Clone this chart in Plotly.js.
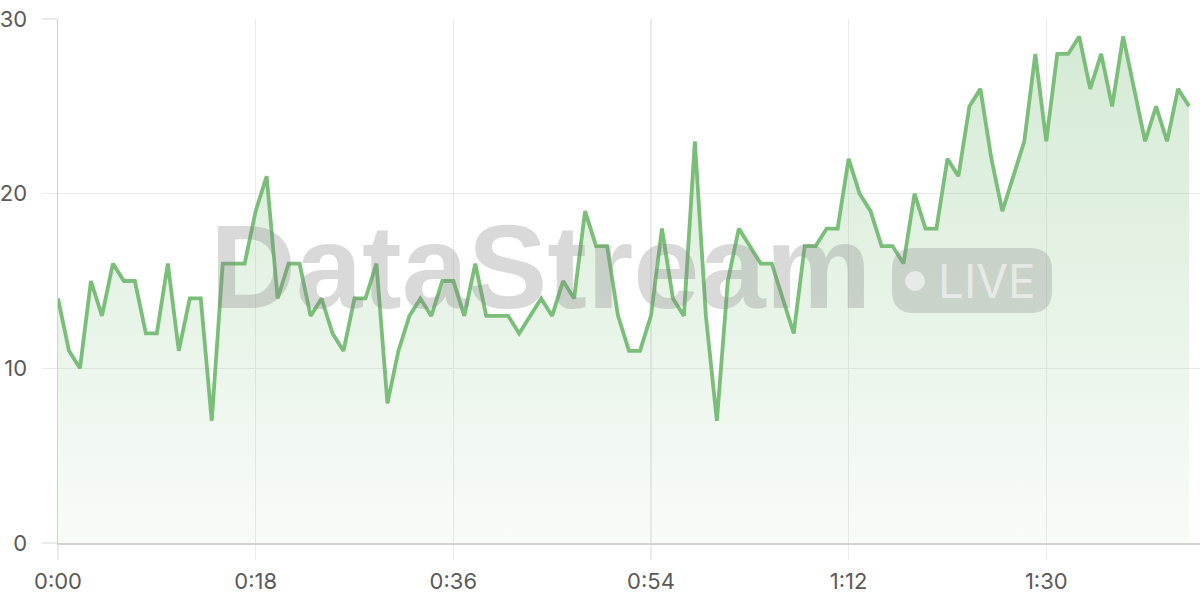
<!DOCTYPE html>
<html>
<head>
<meta charset="utf-8">
<script src="https://cdn.plot.ly/plotly-3.0.1.min.js"></script>
<style>html,body{margin:0;padding:0;background:#fff;}#chart{width:1200px;height:600px;}</style>
</head>
<body>
<div id="chart"></div>
<script>
// Elapsed seconds for each sample
const seconds = [0,1,2,3,4,5,6,7,8,9,10,11,12,13,14,15,16,17,18,19,20,21,22,23,24,25,26,27,28,29,
  30,31,32,33,34,35,36,37,38,39,40,41,42,43,44,45,46,47,48,49,50,51,52,53,54,55,56,57,58,59,
  60,61,62,63,64,65,66,67,68,69,70,71,72,73,74,75,76,77,78,79,80,81,82,83,84,85,86,87,88,89,
  90,91,92,93,94,95,96,97,98,99,100,101,102,103];
// Stream values
const values = [14,11,10,15,13,16,15,15,12,12,
  16,11,14,14,7,16,16,16,19,21,
  14,16,16,13,14,12,11,14,14,16,
  8,11,13,14,13,15,15,13,16,13,
  13,13,12,13,14,13,15,14,19,17,
  17,13,11,11,13,18,14,13,23,13,
  7,15,18,17,16,16,14,12,17,17,
  18,18,22,20,19,17,17,16,20,18,
  18,22,21,25,26,22,19,21,23,28,
  23,28,28,29,26,28,25,29,26,23,
  25,23,26,25];
// Tick positions (seconds) and labels
const xTickVals = [0,18,36,54,72,90];
const xTickText = ['0:00','0:18','0:36','0:54','1:12','1:30'];
const yTickVals = [0,10,20,30];

const W = 1200, H = 600;
const M = {l:58, r:0, t:19, b:57};
const PW = W - M.l - M.r, PH = H - M.t - M.b;
const px = x => (x - M.l) / PW;
const py = y => (H - M.b - y) / PH;

function roundRect(x0, y0, x1, y1, r) {
  const a = px(x0), b = px(x1), c = py(y1), d = py(y0); // c bottom, d top
  const rx = r / PW, ry = r / PH;
  return `M ${a+rx},${d} L ${b-rx},${d} Q ${b},${d} ${b},${d-ry} L ${b},${c+ry} Q ${b},${c} ${b-rx},${c} ` +
         `L ${a+rx},${c} Q ${a},${c} ${a},${c+ry} L ${a},${d-ry} Q ${a},${d} ${a+rx},${d} Z`;
}

const lineColor = 'rgb(122,190,122)';
const trace = {
  x: seconds, y: values, type: 'scatter', mode: 'lines',
  line: {color: lineColor, width: 3.8, shape: 'linear'},
  fill: 'tozeroy',
  fillgradient: {type: 'vertical', start: 0, stop: 30,
    colorscale: [[0, 'rgba(122,190,122,0.05)'], [1, 'rgba(122,190,122,0.33)']]},
  hoverinfo: 'none'
};

const tickFont = {family: 'Inter, "Noto Sans", sans-serif', size: 22, color: '#5a5a5a'};
const gridColor = '#ebebeb';

const layout = {
  width: W, height: H,
  margin: M,
  paper_bgcolor: '#ffffff', plot_bgcolor: '#ffffff',
  showlegend: false,
  xaxis: {
    range: [0, 104], tickmode: 'array', tickvals: xTickVals, ticktext: xTickText,
    showgrid: true, gridcolor: gridColor, gridwidth: 1.5,
    ticks: 'outside', ticklen: 15, tickcolor: gridColor, tickwidth: 1.5,
    showline: true, linecolor: '#d2d2d2', linewidth: 1.5,
    zeroline: false, tickfont: tickFont, ticklabelstandoff: 3, fixedrange: true
  },
  yaxis: {
    range: [0, 30], tickmode: 'array', tickvals: yTickVals,
    showgrid: true, gridcolor: gridColor, gridwidth: 1.5,
    ticks: 'outside', ticklen: 15, tickcolor: gridColor, tickwidth: 1.5,
    showline: true, linecolor: '#d2d2d2', linewidth: 1.5,
    zeroline: false, tickfont: tickFont, ticklabelstandoff: 10, fixedrange: true
  },
  shapes: [
    {type: 'path', xref: 'paper', yref: 'paper', layer: 'above',
     path: roundRect(892, 248, 1052, 313, 22),
     fillcolor: 'rgba(128,128,128,0.28)', line: {width: 0}},
    {type: 'circle', xref: 'paper', yref: 'paper', layer: 'above',
     x0: px(905), x1: px(925), y0: py(291), y1: py(271),
     fillcolor: 'rgba(255,255,255,0.55)', line: {width: 0}}
  ],
  annotations: [
    {text: '<b>DataStream</b>', xref: 'paper', yref: 'paper', x: px(540), y: py(266),
     xanchor: 'center', yanchor: 'middle', showarrow: false,
     font: {family: '"Liberation Sans", Arial, sans-serif', size: 119, color: 'rgba(128,128,128,0.3)'}},
    {text: 'LIVE', xref: 'paper', yref: 'paper', x: px(936), y: py(281),
     xanchor: 'left', yanchor: 'middle', showarrow: false,
     font: {family: 'Inter, "Noto Sans", sans-serif', size: 46, color: 'rgba(255,255,255,0.55)'}}
  ]
};

Plotly.newPlot('chart', [trace], layout, {staticPlot: true, displayModeBar: false});
</script>
</body>
</html>
